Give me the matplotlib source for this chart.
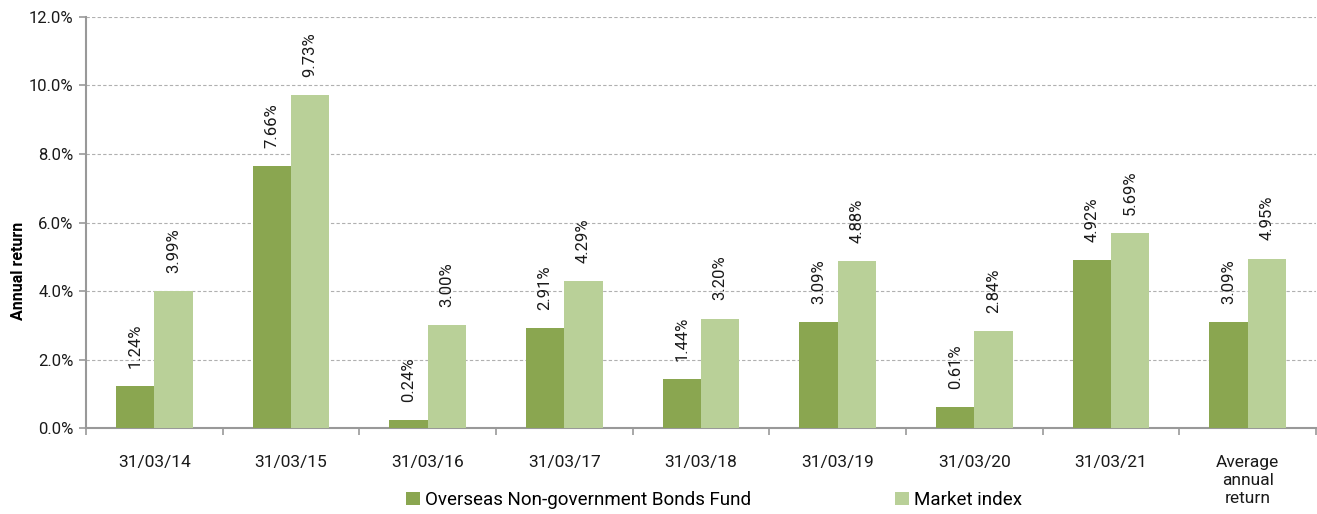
import matplotlib
matplotlib.use('Agg')
import matplotlib.pyplot as plt
import numpy as np
from matplotlib.ticker import FuncFormatter, FixedLocator

plt.rcParams['font.family'] = ['Roboto', 'DejaVu Sans']

categories = ['31/03/14', '31/03/15', '31/03/16', '31/03/17', '31/03/18',
              '31/03/19', '31/03/20', '31/03/21', 'Average\nannual\nreturn']
fund = [1.24, 7.66, 0.24, 2.91, 1.44, 3.09, 0.61, 4.92, 3.09]
index = [3.99, 9.73, 3.00, 4.29, 3.20, 4.88, 2.84, 5.69, 4.95]
series_names = ['Overseas Non-government Bonds Fund', 'Market index']

DARK = '#8aa650'
LIGHT = '#b9d098'
AXIS = '#999999'

fig = plt.figure(figsize=(13.17, 5.14), dpi=100)
ax = fig.add_axes([0.0653, 0.167, 0.934, 0.800])

x = np.arange(len(categories))
w = 0.28
b1 = ax.bar(x - w / 2, fund, w, color=DARK, label=series_names[0], zorder=3)
b2 = ax.bar(x + w / 2, index, w, color=LIGHT, label=series_names[1], zorder=3)

for bars, vals in ((b1, fund), (b2, index)):
    for r, v in zip(bars, vals):
        ax.annotate(f'{v:.2f}%', (r.get_x() + r.get_width() / 2, v),
                    xytext=(0, 13), textcoords='offset points',
                    rotation=90, ha='center', va='bottom', fontsize=12, color='#1a1a1a')

ax.set_xlim(-0.5, len(categories) - 0.5)
ax.set_ylim(0, 12)
ax.set_yticks(np.arange(0, 12.1, 2))
ax.yaxis.set_major_formatter(FuncFormatter(lambda v, p: f'{v:.1f}%'))
ax.yaxis.grid(True, linestyle=(0, (3, 2)), color='#b0b0b0', linewidth=0.8, zorder=0)

ax.set_xticks(x)
ax.set_xticklabels(categories, va='top', linespacing=1.25)
ax.xaxis.set_minor_locator(FixedLocator(np.arange(-0.5, len(categories), 1)))
ax.tick_params(axis='x', which='major', length=0, pad=19, labelsize=12.5, labelcolor='#1a1a1a')
ax.tick_params(axis='x', which='minor', length=5, width=1.2, color=AXIS)
ax.tick_params(axis='y', length=5, width=1.2, color=AXIS, labelsize=12, labelcolor='#1a1a1a', pad=4)

for s in ('top', 'right'):
    ax.spines[s].set_visible(False)
for s in ('left', 'bottom'):
    ax.spines[s].set_color(AXIS)
    ax.spines[s].set_linewidth(1.5)

ax.set_ylabel('Annual return', fontsize=11.5, fontweight='bold')
ax.yaxis.set_label_coords(-0.049, 0.382)

fig.legend(handles=[b1, b2], loc='center', bbox_to_anchor=(0.542, 0.027), ncol=2,
           frameon=False, fontsize=13.5, handlelength=0.75, handleheight=0.75,
           handletextpad=0.25, columnspacing=7.7)

fig.savefig('out.png')
